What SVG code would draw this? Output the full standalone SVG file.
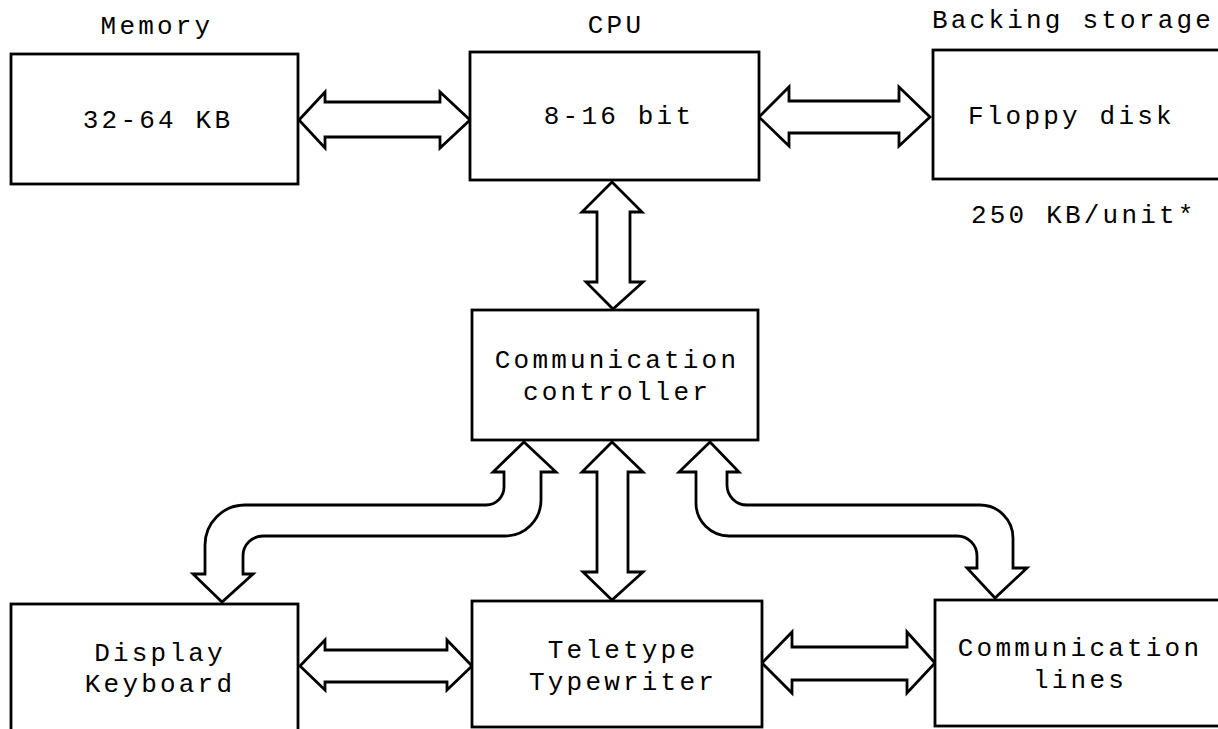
<svg xmlns="http://www.w3.org/2000/svg" width="1218" height="729" viewBox="0 0 1218 729">
<style>
.box{fill:#fff;stroke:#000;stroke-width:2.8}
.arr{fill:#fff;stroke:#000;stroke-width:2.8;stroke-linejoin:miter}
text{font-family:"Liberation Mono","DejaVu Sans Mono",monospace;font-size:26px;letter-spacing:3.2px;fill:#000}
.m{text-anchor:middle}
</style>
<rect width="1218" height="729" fill="#fff"/>
<g id="connectors">
<path class="arr" d="M299,120 L325,92 L325,102 L440,102 L440,92 L470,120 L440,148 L440,137 L325,137 L325,148 Z"/>
<path class="arr" d="M759,117 L789,87 L789,101 L899,101 L899,87 L930,117 L899,146 L899,133 L789,133 L789,146 Z"/>
<path class="arr" d="M612,182 L642,212 L630,212 L630,282 L643,282 L613,309 L586,282 L597,282 L597,212 L582,212 Z"/>
<path class="arr" d="M612,442 L643,472 L628,472 L628,572 L643,572 L612,600 L583,572 L597,572 L597,472 L582,472 Z"/>
<path class="arr" d="M524,442 L556,472 L541,472 L541,500 A36,36 0 0 1 505,536 L263,536 A20,20 0 0 0 243,556 L243,574 L253,574 L222,602 L193,574 L205,574 L205,545 A40,40 0 0 1 245,505 L486,505 A18,18 0 0 0 504,487 L504,472 L493,472 Z"/>
<path class="arr" d="M710,442 L739,472 L727,472 L727,485 A20,20 0 0 0 747,505 L980,505 A33,33 0 0 1 1013,538 L1013,568 L1027,568 L995,598 L967,568 L977,568 L977,556 A20,20 0 0 0 957,536 L729,536 A33,33 0 0 1 696,503 L696,472 L679,472 Z"/>
<path class="arr" d="M300,666 L325,640 L325,650 L447,650 L447,640 L472,666 L447,690 L447,682 L325,682 L325,690 Z"/>
<path class="arr" d="M762,663 L792,632 L792,647 L907,647 L907,632 L935,663 L907,693 L907,680 L792,680 L792,693 Z"/>
</g>
<g id="memory">
<text class="m" x="157" y="34">Memory</text>
<rect class="box" x="11" y="54" width="287" height="130"/>
<text class="m" x="158" y="128">32-64 KB</text>
</g>
<g id="cpu">
<text class="m" x="616" y="33">CPU</text>
<rect class="box" x="470" y="52" width="289" height="128"/>
<text class="m" x="619" y="124">8-16 bit</text>
</g>
<g id="backing-storage">
<text x="932" y="28">Backing storage</text>
<rect class="box" x="933" y="50" width="300" height="129"/>
<text x="968" y="124">Floppy disk</text>
<text x="971" y="223">250 KB/unit*</text>
</g>
<g id="comm-controller">
<rect class="box" x="472" y="310" width="286" height="130"/>
<text class="m" x="617" y="368">Communication</text>
<text class="m" x="617" y="400">controller</text>
</g>
<g id="display-keyboard">
<rect class="box" x="11" y="604" width="287" height="140"/>
<text class="m" x="160" y="661">Display</text>
<text class="m" x="160" y="692">Keyboard</text>
</g>
<g id="teletype">
<rect class="box" x="472" y="601" width="290" height="126"/>
<text class="m" x="623" y="658">Teletype</text>
<text class="m" x="623" y="690">Typewriter</text>
</g>
<g id="comm-lines">
<rect class="box" x="935" y="600" width="300" height="126"/>
<text class="m" x="1080" y="656">Communication</text>
<text class="m" x="1080" y="688">lines</text>
</g>
</svg>
